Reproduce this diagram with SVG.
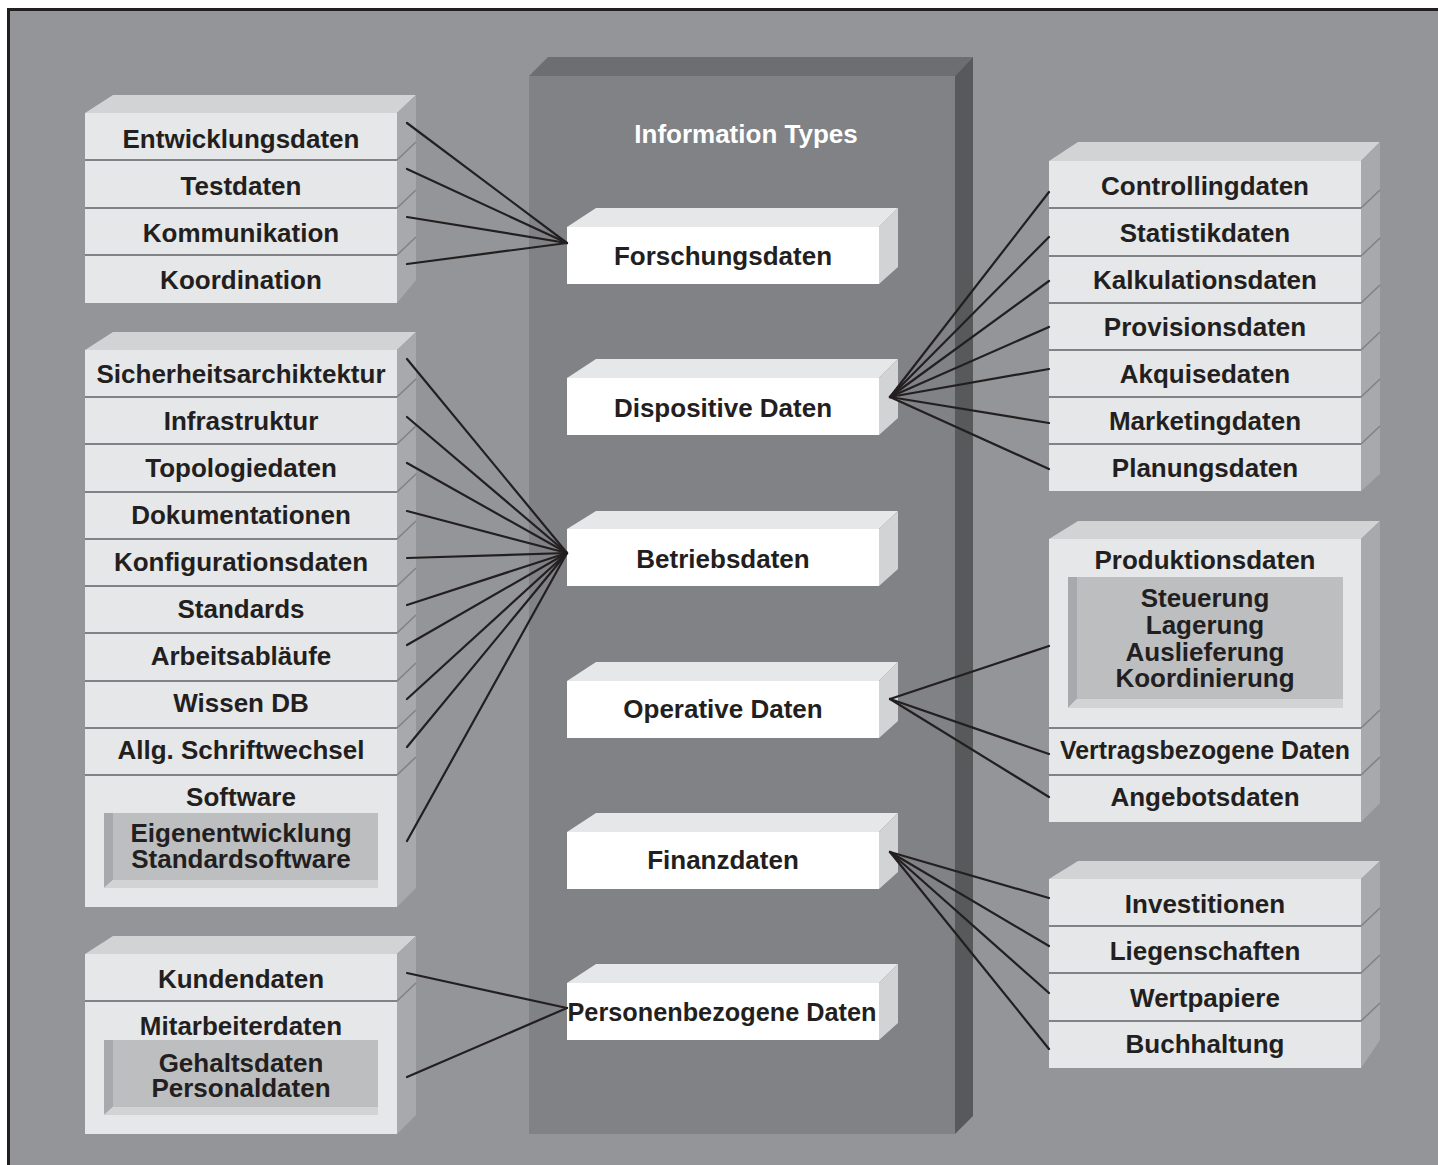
<svg xmlns="http://www.w3.org/2000/svg" width="1438" height="1165" viewBox="0 0 1438 1165">
<style>
.front{fill:#e6e7e8}
.top{fill:#d1d3d4}
.side{fill:#a7a9ac}
.wfront{fill:#ffffff}
.wtop{fill:#e6e7e8}
.wside{fill:#d1d3d4}
.inface{fill:#bcbec0}
.inleft{fill:#a7a9ac}
.inbot{fill:#d1d3d4}
.div{stroke:#808285;stroke-width:2.2}
.sdiv{stroke:#808285;stroke-width:1.6}
.lbl{font-family:"Liberation Sans",Arial,Helvetica,sans-serif;font-weight:bold;font-size:26px;fill:#231f20;text-anchor:middle}
.title{font-family:"Liberation Sans",Arial,Helvetica,sans-serif;font-weight:bold;font-size:26px;fill:#ffffff;text-anchor:middle}
#connectors line{stroke:#231f20;stroke-width:2.2;stroke-linecap:round}
</style>
<rect x="0" y="0" width="1438" height="1165" fill="#ffffff"/>
<rect x="8.5" y="9.5" width="1445" height="1170" fill="#939598" stroke="#231f20" stroke-width="3"/>

<g id="central">
<rect x="529" y="76" width="426" height="1058" fill="#808285"/>
<polygon points="529,76 548,57 973,57 955,76" fill="#6d6e71"/>
<polygon points="955,76 973,57 973,1116 955,1134" fill="#58595b"/>
<text class="title" x="746" y="143">Information Types</text>
</g>

<g id="left1">
<rect class="front" x="85" y="113" width="312" height="190"/>
<polygon class="top" points="85,113 113,95 416,95 397,113"/>
<polygon class="side" points="397,113 416,95 416,280 397,303"/>
<line class="div" x1="85" y1="160" x2="397" y2="160"/>
<line class="div" x1="85" y1="208" x2="397" y2="208"/>
<line class="div" x1="85" y1="255" x2="397" y2="255"/>
<line class="sdiv" x1="397" y1="160" x2="416" y2="142"/>
<line class="sdiv" x1="397" y1="208" x2="416" y2="190"/>
<line class="sdiv" x1="397" y1="255" x2="416" y2="237"/>
<text class="lbl" x="241" y="148">Entwicklungsdaten</text>
<text class="lbl" x="241" y="195">Testdaten</text>
<text class="lbl" x="241" y="242">Kommunikation</text>
<text class="lbl" x="241" y="289">Koordination</text>
</g>

<g id="left2">
<rect class="front" x="85" y="350" width="312" height="557"/>
<polygon class="top" points="85,350 113,332 416,332 397,350"/>
<polygon class="side" points="397,350 416,332 416,888 397,907"/>
<line class="div" x1="85" y1="397" x2="397" y2="397"/>
<line class="div" x1="85" y1="444" x2="397" y2="444"/>
<line class="div" x1="85" y1="492" x2="397" y2="492"/>
<line class="div" x1="85" y1="539" x2="397" y2="539"/>
<line class="div" x1="85" y1="586" x2="397" y2="586"/>
<line class="div" x1="85" y1="633" x2="397" y2="633"/>
<line class="div" x1="85" y1="681" x2="397" y2="681"/>
<line class="div" x1="85" y1="728" x2="397" y2="728"/>
<line class="div" x1="85" y1="775" x2="397" y2="775"/>
<line class="sdiv" x1="397" y1="397" x2="416" y2="379"/>
<line class="sdiv" x1="397" y1="444" x2="416" y2="426"/>
<line class="sdiv" x1="397" y1="492" x2="416" y2="474"/>
<line class="sdiv" x1="397" y1="539" x2="416" y2="521"/>
<line class="sdiv" x1="397" y1="586" x2="416" y2="568"/>
<line class="sdiv" x1="397" y1="633" x2="416" y2="615"/>
<line class="sdiv" x1="397" y1="681" x2="416" y2="663"/>
<line class="sdiv" x1="397" y1="728" x2="416" y2="710"/>
<line class="sdiv" x1="397" y1="775" x2="416" y2="757"/>
<text class="lbl" x="241" y="383">Sicherheitsarchiktektur</text>
<text class="lbl" x="241" y="430">Infrastruktur</text>
<text class="lbl" x="241" y="477">Topologiedaten</text>
<text class="lbl" x="241" y="524">Dokumentationen</text>
<text class="lbl" x="241" y="571">Konfigurationsdaten</text>
<text class="lbl" x="241" y="618">Standards</text>
<text class="lbl" x="241" y="665">Arbeitsabläufe</text>
<text class="lbl" x="241" y="712">Wissen DB</text>
<text class="lbl" x="241" y="759">Allg. Schriftwechsel</text>
<text class="lbl" x="241" y="806">Software</text>
<rect class="inface" x="113" y="813" width="265" height="67"/>
<polygon class="inleft" points="104,813 113,813 113,880 104,888"/>
<polygon class="inbot" points="104,888 113,880 378,880 378,888"/>
<text class="lbl" x="241" y="842">Eigenentwicklung</text>
<text class="lbl" x="241" y="868">Standardsoftware</text>
</g>

<g id="left3">
<rect class="front" x="85" y="954" width="312" height="180"/>
<polygon class="top" points="85,954 113,936 416,936 397,954"/>
<polygon class="side" points="397,954 416,936 416,1115 397,1134"/>
<line class="div" x1="85" y1="1001" x2="397" y2="1001"/>
<line class="sdiv" x1="397" y1="1001" x2="416" y2="983"/>
<text class="lbl" x="241" y="988">Kundendaten</text>
<text class="lbl" x="241" y="1035">Mitarbeiterdaten</text>
<rect class="inface" x="113" y="1040" width="265" height="67"/>
<polygon class="inleft" points="104,1040 113,1040 113,1107 104,1115"/>
<polygon class="inbot" points="104,1115 113,1107 378,1107 378,1115"/>
<text class="lbl" x="241" y="1072">Gehaltsdaten</text>
<text class="lbl" x="241" y="1097">Personaldaten</text>
</g>

<g id="forschungsdaten">
<rect class="wfront" x="567" y="227" width="312" height="57"/>
<polygon class="wtop" points="567,227 596,208 898,208 879,227"/>
<polygon class="wside" points="879,227 898,208 898,267 879,284"/>
<text class="lbl" x="723" y="265">Forschungsdaten</text>
</g>
<g id="dispositive">
<rect class="wfront" x="567" y="378" width="312" height="57"/>
<polygon class="wtop" points="567,378 596,359 898,359 879,378"/>
<polygon class="wside" points="879,378 898,359 898,418 879,435"/>
<text class="lbl" x="723" y="417">Dispositive Daten</text>
</g>
<g id="betriebsdaten">
<rect class="wfront" x="567" y="529" width="312" height="57"/>
<polygon class="wtop" points="567,529 596,511 898,511 879,529"/>
<polygon class="wside" points="879,529 898,511 898,569 879,586"/>
<text class="lbl" x="723" y="568">Betriebsdaten</text>
</g>
<g id="operative">
<rect class="wfront" x="567" y="681" width="312" height="57"/>
<polygon class="wtop" points="567,681 596,662 898,662 879,681"/>
<polygon class="wside" points="879,681 898,662 898,721 879,738"/>
<text class="lbl" x="723" y="718">Operative Daten</text>
</g>
<g id="finanzdaten">
<rect class="wfront" x="567" y="832" width="312" height="57"/>
<polygon class="wtop" points="567,832 596,813 898,813 879,832"/>
<polygon class="wside" points="879,832 898,813 898,872 879,889"/>
<text class="lbl" x="723" y="869">Finanzdaten</text>
</g>
<g id="personenbezogene">
<rect class="wfront" x="567" y="983" width="312" height="57"/>
<polygon class="wtop" points="567,983 596,964 898,964 879,983"/>
<polygon class="wside" points="879,983 898,964 898,1023 879,1040"/>
<text class="lbl" x="722" y="1021" textLength="309" lengthAdjust="spacingAndGlyphs">Personenbezogene Daten</text>
</g>

<g id="right1">
<rect class="front" x="1049" y="161" width="312" height="330"/>
<polygon class="top" points="1049,161 1078,142 1380,142 1361,161"/>
<polygon class="side" points="1361,161 1380,142 1380,474 1361,491"/>
<line class="div" x1="1049" y1="208" x2="1361" y2="208"/>
<line class="div" x1="1049" y1="256" x2="1361" y2="256"/>
<line class="div" x1="1049" y1="303" x2="1361" y2="303"/>
<line class="div" x1="1049" y1="350" x2="1361" y2="350"/>
<line class="div" x1="1049" y1="397" x2="1361" y2="397"/>
<line class="div" x1="1049" y1="444" x2="1361" y2="444"/>
<line class="sdiv" x1="1361" y1="208" x2="1380" y2="190"/>
<line class="sdiv" x1="1361" y1="256" x2="1380" y2="238"/>
<line class="sdiv" x1="1361" y1="303" x2="1380" y2="285"/>
<line class="sdiv" x1="1361" y1="350" x2="1380" y2="332"/>
<line class="sdiv" x1="1361" y1="397" x2="1380" y2="379"/>
<line class="sdiv" x1="1361" y1="444" x2="1380" y2="426"/>
<text class="lbl" x="1205" y="195">Controllingdaten</text>
<text class="lbl" x="1205" y="242">Statistikdaten</text>
<text class="lbl" x="1205" y="289">Kalkulationsdaten</text>
<text class="lbl" x="1205" y="336">Provisionsdaten</text>
<text class="lbl" x="1205" y="383">Akquisedaten</text>
<text class="lbl" x="1205" y="430">Marketingdaten</text>
<text class="lbl" x="1205" y="477">Planungsdaten</text>
</g>

<g id="right2">
<rect class="front" x="1049" y="539" width="312" height="283"/>
<polygon class="top" points="1049,539 1078,521 1380,521 1361,539"/>
<polygon class="side" points="1361,539 1380,521 1380,803 1361,822"/>
<line class="div" x1="1049" y1="728" x2="1361" y2="728"/>
<line class="div" x1="1049" y1="775" x2="1361" y2="775"/>
<line class="sdiv" x1="1361" y1="728" x2="1380" y2="710"/>
<line class="sdiv" x1="1361" y1="775" x2="1380" y2="757"/>
<text class="lbl" x="1205" y="569">Produktionsdaten</text>
<rect class="inface" x="1077" y="577" width="266" height="122"/>
<polygon class="inleft" points="1068,577 1077,577 1077,699 1068,708"/>
<polygon class="inbot" points="1068,708 1077,699 1343,699 1343,708"/>
<text class="lbl" x="1205" y="607">Steuerung</text>
<text class="lbl" x="1205" y="634">Lagerung</text>
<text class="lbl" x="1205" y="661">Auslieferung</text>
<text class="lbl" x="1205" y="687">Koordinierung</text>
<text class="lbl" x="1205" y="759" textLength="290" lengthAdjust="spacingAndGlyphs">Vertragsbezogene Daten</text>
<text class="lbl" x="1205" y="806">Angebotsdaten</text>
</g>

<g id="right3">
<rect class="front" x="1049" y="879" width="312" height="189"/>
<polygon class="top" points="1049,879 1078,861 1380,861 1361,879"/>
<polygon class="side" points="1361,879 1380,861 1380,1040 1361,1068"/>
<line class="div" x1="1049" y1="926" x2="1361" y2="926"/>
<line class="div" x1="1049" y1="973" x2="1361" y2="973"/>
<line class="div" x1="1049" y1="1021" x2="1361" y2="1021"/>
<line class="sdiv" x1="1361" y1="926" x2="1380" y2="908"/>
<line class="sdiv" x1="1361" y1="973" x2="1380" y2="955"/>
<line class="sdiv" x1="1361" y1="1021" x2="1380" y2="1003"/>
<text class="lbl" x="1205" y="913">Investitionen</text>
<text class="lbl" x="1205" y="960">Liegenschaften</text>
<text class="lbl" x="1205" y="1007">Wertpapiere</text>
<text class="lbl" x="1205" y="1053">Buchhaltung</text>
</g>

<g id="connectors">
<line x1="407" y1="123" x2="567" y2="243"/>
<line x1="407" y1="169" x2="567" y2="243"/>
<line x1="407" y1="217" x2="567" y2="243"/>
<line x1="407" y1="264" x2="567" y2="243"/>
<line x1="407" y1="359" x2="567" y2="553"/>
<line x1="407" y1="417" x2="567" y2="553"/>
<line x1="407" y1="463" x2="567" y2="553"/>
<line x1="407" y1="511" x2="567" y2="553"/>
<line x1="407" y1="558" x2="567" y2="553"/>
<line x1="407" y1="605" x2="567" y2="553"/>
<line x1="407" y1="645" x2="567" y2="553"/>
<line x1="407" y1="699" x2="567" y2="553"/>
<line x1="407" y1="747" x2="567" y2="553"/>
<line x1="407" y1="841" x2="567" y2="553"/>
<line x1="407" y1="973" x2="567" y2="1008"/>
<line x1="407" y1="1077" x2="567" y2="1008"/>
<line x1="890" y1="397" x2="1049" y2="192"/>
<line x1="890" y1="397" x2="1049" y2="237"/>
<line x1="890" y1="397" x2="1049" y2="281"/>
<line x1="890" y1="397" x2="1049" y2="327"/>
<line x1="890" y1="397" x2="1049" y2="369"/>
<line x1="890" y1="397" x2="1049" y2="423"/>
<line x1="890" y1="397" x2="1049" y2="469"/>
<line x1="890" y1="699" x2="1049" y2="646"/>
<line x1="890" y1="699" x2="1049" y2="754"/>
<line x1="890" y1="699" x2="1049" y2="797"/>
<line x1="890" y1="852" x2="1049" y2="898"/>
<line x1="890" y1="852" x2="1049" y2="946"/>
<line x1="890" y1="852" x2="1049" y2="993"/>
<line x1="890" y1="852" x2="1049" y2="1049"/>
</g>
</svg>
